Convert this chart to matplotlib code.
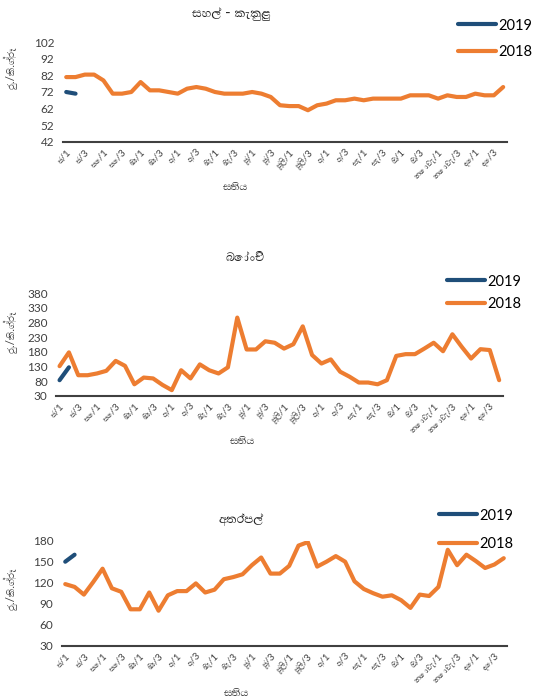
import matplotlib
matplotlib.use("Agg")
import matplotlib.pyplot as plt
from matplotlib import font_manager
from matplotlib.ft2font import FT2Font

# look for any installed font that can draw Sinhala
sinhala_fonts = []
for f in font_manager.fontManager.ttflist:
    try:
        if 0x0DC3 in FT2Font(f.fname).get_charmap():
            sinhala_fonts.append(f.name)
    except Exception:
        pass
plt.rcParams['font.family'] = ['Lato'] + sorted(set(sinhala_fonts)) + ['DejaVu Sans']

weeks = ['ජ/1', 'ජ/3', 'පෙ/1', 'පෙ/3', 'මා/1', 'මා/3', 'අ/1', 'අ/3', 'මැ/1', 'මැ/3',
         'ජූ/1', 'ජූ/3', 'ජූලි/1', 'ජූලි/3', 'අ/1', 'අ/3', 'සැ/1', 'සැ/3', 'ඔ/1', 'ඔ/3',
         'නොවැ/1', 'නොවැ/3', 'දෙ/1', 'දෙ/3']

rice_2018 = [81, 81, 82.5, 82.5, 79, 71, 71, 72, 78, 73, 73, 72, 71, 74, 75, 74,
             72, 71, 71, 71, 72, 71, 69, 64, 63.5, 63.5, 61, 64, 65, 67, 67, 68,
             67, 68, 68, 68, 68, 70, 70, 70, 68, 70, 69, 69, 71, 70, 70, 75]
rice_2019 = [72, 71]

beans_2018 = [131, 178, 100, 100, 106, 115, 149, 132, 69, 92, 89, 67, 49, 117, 89, 137,
              117, 106, 127, 297, 188, 188, 216, 211, 191, 206, 267, 169, 140, 154, 112, 95,
              75, 75, 69, 83, 166, 172, 172, 191, 211, 182, 240, 197, 157, 189, 186, 83]
beans_2019 = [83, 127]

potato_2018 = [118, 114, 103, 121, 140, 112, 107, 82, 82, 106, 80, 102, 108, 108, 119, 106,
               110, 125, 128, 132, 145, 156, 133, 133, 144, 173, 178, 143, 150, 158, 150, 122,
               111, 105, 100, 102, 95, 84, 103, 101, 114, 167, 145, 160, 151, 141, 146, 155]
potato_2019 = [150, 160]

titles = ['සහල් - කැකුළු', 'බෝංචි', 'අතර්පල්']
ylabel = 'රු./කි.ග්‍රෑ'
xlabel = 'සතිය'

orange = '#ED7D31'
blue = '#1F4E79'
W, H = 534, 700

fig = plt.figure(figsize=(5.34, 7.0), dpi=100)

panels = [
    # data18, data19, (left, right, top, bottom px), yticks, title xy, xlabel xy, ylabel y, legend xy, legend spacing
    (rice_2018, rice_2019, (62.7, 506.7, 42.3, 141.7), list(range(42, 103, 10)),
     (231, 14), (236, 186), 68, (458, 18.5), 0.85),
    (beans_2018, beans_2019, (56, 502.7, 293.3, 395.7), list(range(30, 381, 50)),
     (245, 257), (243, 440), 332, (447, 274.5), 0.58),
    (potato_2018, potato_2019, (61.7, 507.3, 540.7, 645.7), list(range(30, 181, 30)),
     (241, 519), (237, 692), 589, (439, 508.5), 1.0),
]

for i, (d18, d19, (l, r, t, b), yt, tpos, xpos, ly, lpos, lsp) in enumerate(panels):
    ax = fig.add_axes([l / W, 1 - b / H, (r - l) / W, (b - t) / H])
    x18 = list(range(len(d18)))
    x19 = list(range(len(d19)))
    h18, = ax.plot(x18, d18, color=orange, lw=3, solid_capstyle='round', solid_joinstyle='round')
    h19, = ax.plot(x19, d19, color=blue, lw=3, solid_capstyle='round', solid_joinstyle='round')
    ax.set_xlim(-0.38, len(d18) - 1 + 0.38)
    ax.set_ylim(yt[0], yt[-1])
    ax.set_yticks(yt)
    ax.tick_params(axis='y', length=0, labelsize=8.5, colors='#404040', pad=6)
    ax.set_xticks(range(0, len(d18), 2))
    ax.set_xticklabels(weeks, rotation=45, ha='right', rotation_mode='anchor', fontsize=7, color='#404040')
    ax.tick_params(axis='x', length=0, pad=4)
    for s in ['top', 'right', 'left']:
        ax.spines[s].set_visible(False)
    ax.spines['bottom'].set_color('#404040')
    ax.spines['bottom'].set_linewidth(1.5)
    ax.patch.set_alpha(0)

    fig.text(tpos[0] / W, 1 - tpos[1] / H, titles[i], ha='center', va='center', fontsize=11, color='#222222')
    fig.text(xpos[0] / W, 1 - xpos[1] / H, xlabel, ha='center', va='center', fontsize=9.5, color='#404040')
    fig.text(12 / W, 1 - ly / H, ylabel, ha='center', va='center', rotation=90, fontsize=8.5, color='#404040')

    ax.legend([h19, h18], ['2019', '2018'], loc='upper left',
              bbox_to_anchor=(lpos[0] / W, 1 - lpos[1] / H), bbox_transform=fig.transFigure,
              frameon=False, fontsize=10.5, handlelength=2.6, handletextpad=0.15,
              borderpad=0, borderaxespad=0, labelspacing=lsp)

fig.savefig('out.png', dpi=100)
